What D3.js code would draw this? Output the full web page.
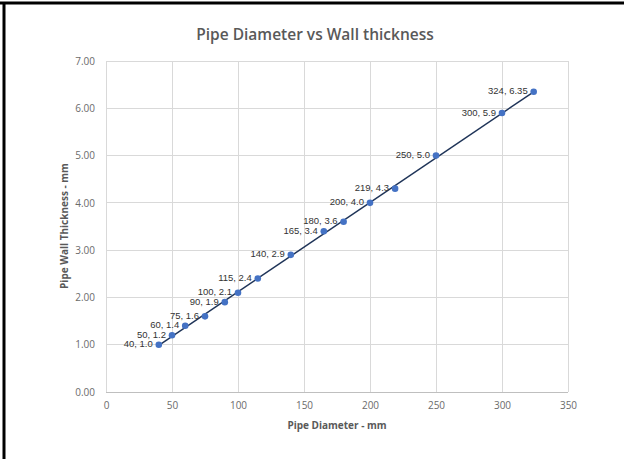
<!DOCTYPE html>
<html>
<head>
<meta charset="utf-8">
<script src="https://cdn.jsdelivr.net/npm/d3@7"></script>
<style>
  html, body { margin: 0; padding: 0; background: #fff; }
  svg { display: block; }
</style>
</head>
<body>
<svg id="chart" width="624" height="459"></svg>
<script>
// Outside diameter (mm) and wall thickness (mm) for each pipe size
const diameters = [40, 50, 60, 75, 90, 100, 115, 140, 165, 180, 200, 219, 250, 300, 324];
const thickness = [1.0, 1.2, 1.4, 1.6, 1.9, 2.1, 2.4, 2.9, 3.4, 3.6, 4.0, 4.3, 5.0, 5.9, 6.35];
const pointLabels = ["40, 1.0", "50, 1.2", "60, 1.4", "75, 1.6", "90, 1.9", "100, 2.1", "115, 2.4",
  "140, 2.9", "165, 3.4", "180, 3.6", "200, 4.0", "219, 4.3", "250, 5.0", "300, 5.9", "324, 6.35"];
const xTicks = [0, 50, 100, 150, 200, 250, 300, 350];
const yTicks = [0, 1, 2, 3, 4, 5, 6, 7];

const svg = d3.select("#chart");
const W = 624, H = 459;

// Frame lines along the top and left edges
svg.append("line").attr("x1", 0).attr("x2", W).attr("y1", 3).attr("y2", 3)
  .attr("stroke", "#000").attr("stroke-width", 3);
svg.append("line").attr("x1", 4).attr("x2", 4).attr("y1", 2).attr("y2", H)
  .attr("stroke", "#000").attr("stroke-width", 3);

const x = d3.scaleLinear().domain([0, 350]).range([106, 568]);
const y = d3.scaleLinear().domain([0, 7]).range([392, 61]);

const gridColor = "#d9d9d9";
const labelColor = "#6b6b6b";

// Gridlines
svg.append("g").selectAll("line").data(yTicks).join("line")
  .attr("x1", x(0)).attr("x2", x(350))
  .attr("y1", d => y(d)).attr("y2", d => y(d))
  .attr("stroke", d => d === 0 ? "#bfbfbf" : gridColor).attr("stroke-width", 1)
  .attr("shape-rendering", "crispEdges");
svg.append("g").selectAll("line").data(xTicks).join("line")
  .attr("x1", d => x(d)).attr("x2", d => x(d))
  .attr("y1", y(0)).attr("y2", y(7))
  .attr("stroke", gridColor).attr("stroke-width", 1)
  .attr("shape-rendering", "crispEdges");

// Axes (labels only; lines come from the grid)
const xAxis = d3.axisBottom(x).tickValues(xTicks).tickSize(0).tickPadding(10).tickFormat(d3.format("d"));
const gx = svg.append("g").attr("transform", `translate(0,${y(0)})`).call(xAxis);
gx.select(".domain").remove();
gx.selectAll("text").attr("fill", labelColor).style("font-family", "'Open Sans', sans-serif").style("font-size", "10px");

const yAxis = d3.axisLeft(y).tickValues(yTicks).tickSize(0).tickPadding(11).tickFormat(d3.format(".2f"));
const gy = svg.append("g").attr("transform", `translate(${x(0)},0)`).call(yAxis);
gy.select(".domain").remove();
gy.selectAll("text").attr("fill", labelColor).style("font-family", "'Open Sans', sans-serif").style("font-size", "10px");

// Title and axis titles
svg.append("text").attr("x", 315).attr("y", 34).attr("text-anchor", "middle")
  .attr("dominant-baseline", "central")
  .attr("fill", "#595959").style("font-family", "'Open Sans', sans-serif")
  .style("font-size", "15.5px").style("font-weight", "600")
  .text("Pipe Diameter vs Wall thickness");
svg.append("text").attr("x", 337).attr("y", 425).attr("text-anchor", "middle")
  .attr("dominant-baseline", "central")
  .attr("fill", "#595959").style("font-family", "'Open Sans', sans-serif")
  .style("font-size", "10px").style("font-weight", "700")
  .text("Pipe Diameter - mm");
svg.append("text").attr("transform", `translate(64,226) rotate(-90)`).attr("text-anchor", "middle")
  .attr("dominant-baseline", "central")
  .attr("fill", "#595959").style("font-family", "'Open Sans', sans-serif")
  .style("font-size", "10px").style("font-weight", "700")
  .text("Pipe Wall Thickness - mm");

// Linear trendline fitted to the data
const n = diameters.length;
const mx = d3.mean(diameters), my = d3.mean(thickness);
let sxy = 0, sxx = 0;
for (let i = 0; i < n; i++) {
  sxy += (diameters[i] - mx) * (thickness[i] - my);
  sxx += (diameters[i] - mx) ** 2;
}
const slope = sxy / sxx, intercept = my - slope * mx;
const x0 = d3.min(diameters), x1 = d3.max(diameters);
svg.append("line")
  .attr("x1", x(x0)).attr("y1", y(intercept + slope * x0))
  .attr("x2", x(x1)).attr("y2", y(intercept + slope * x1))
  .attr("stroke", "#1f3458").attr("stroke-width", 1.5);

// Points
const pts = diameters.map((d, i) => ({ d, t: thickness[i], label: pointLabels[i] }));
svg.append("g").selectAll("circle").data(pts).join("circle")
  .attr("cx", p => x(p.d)).attr("cy", p => y(p.t)).attr("r", 3.3)
  .attr("fill", "#4472c4");

// Data labels to the left of each point
svg.append("g").selectAll("text").data(pts).join("text")
  .attr("x", p => x(p.d) - 6).attr("y", p => y(p.t) - 1)
  .attr("text-anchor", "end").attr("dominant-baseline", "central")
  .attr("fill", "#333333").style("font-family", "'Liberation Sans', Arial, sans-serif")
  .style("font-size", "9.5px")
  .text(p => p.label);
</script>
</body>
</html>
